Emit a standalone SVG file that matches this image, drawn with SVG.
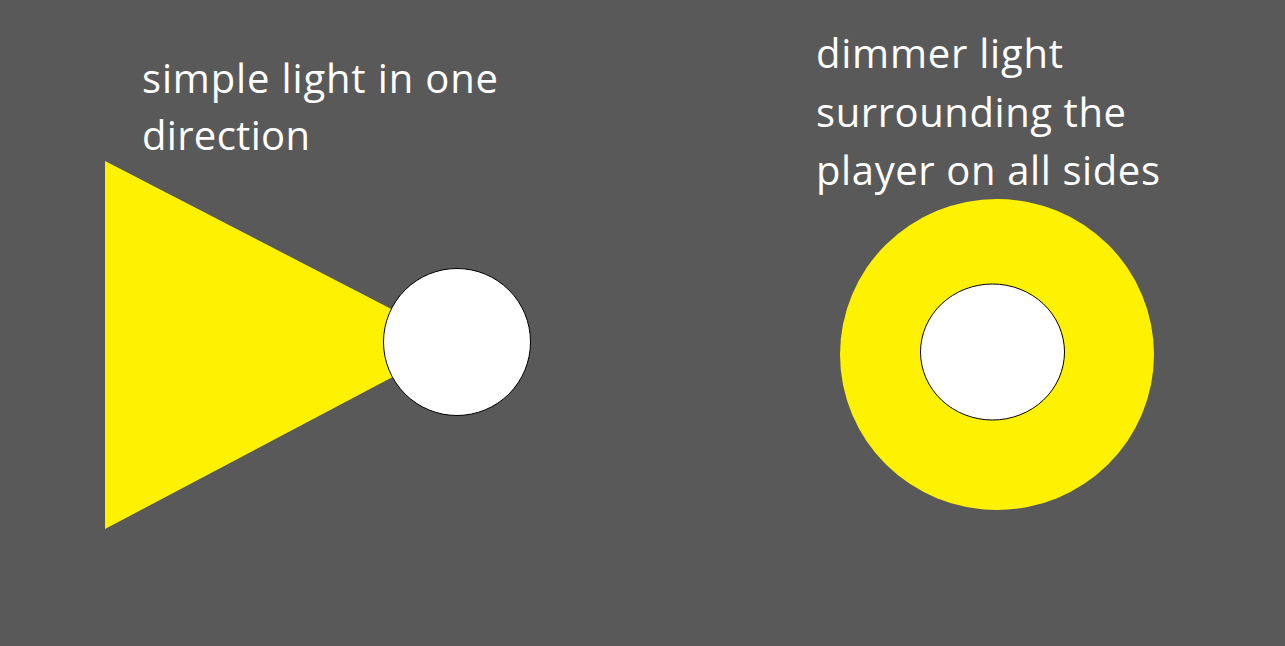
<svg xmlns="http://www.w3.org/2000/svg" width="1285" height="646" viewBox="0 0 1285 646">
<style>
.t{font-family:"Open Sans","Noto Sans",sans-serif;font-size:40px;fill:#ffffff}
.y{fill:#fff200}
.p{fill:#ffffff;stroke:#000000;stroke-width:1}
</style>
<rect width="1285" height="646" fill="#595959"/>
<g id="cone-light">
<polygon class="y" points="105,161 457,343 105,529"/>
<circle class="p" cx="457" cy="342" r="73.5"/>
<text class="t" x="142" y="93" textLength="356">simple light in one</text>
<text class="t" x="142" y="150" textLength="168">direction</text>
</g>
<g id="ring-light">
<ellipse class="y" cx="997" cy="354.5" rx="157" ry="155.5"/>
<ellipse class="p" cx="992.5" cy="352" rx="72" ry="68"/>
<text class="t" x="816" y="68" textLength="247">dimmer light</text>
<text class="t" x="816" y="127" textLength="310">surrounding the</text>
<text class="t" x="816" y="185" textLength="344">player on all sides</text>
</g>
</svg>
